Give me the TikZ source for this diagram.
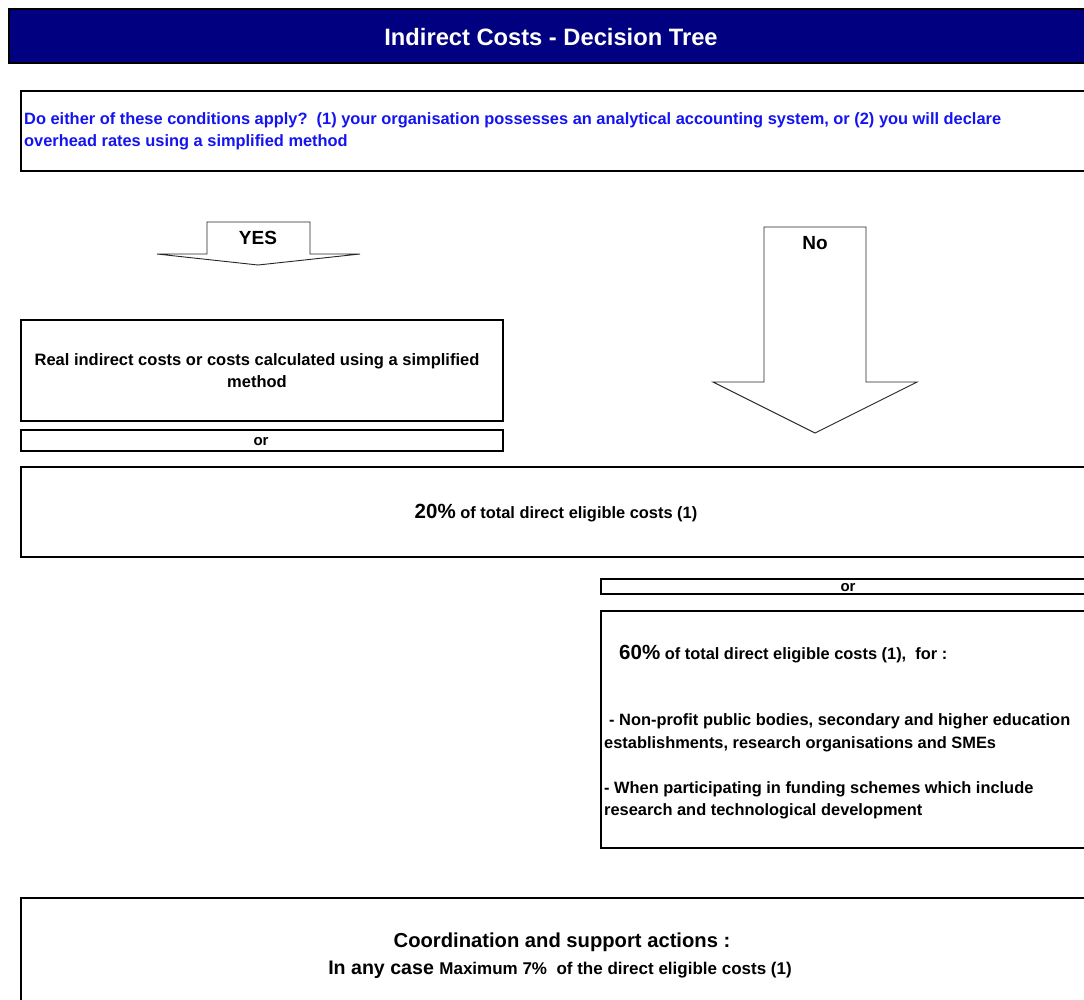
\documentclass[tikz,border=0pt]{standalone}
\usepackage{fontspec}
\setmainfont{Liberation Sans}
\definecolor{navy}{RGB}{0,0,128}
\definecolor{qblue}{RGB}{20,20,240}
\tikzset{
  box/.style={draw=black, line width=1.6pt, fill=white, inner sep=0pt, anchor=north west},
  blockarrow/.style={draw=black!85, line width=0.9pt, fill=white, line join=miter},
  txt/.style={inner sep=0pt, font=\bfseries},
}
\begin{document}
\begin{tikzpicture}[x=1pt, y=-1pt]
\useasboundingbox (0,0) rectangle (1084,999);
\clip (0,0) rectangle (1084,999);
\fill[white] (0,0) rectangle (1084,999);

% title bar
\node[draw=black, line width=2pt, fill=navy, anchor=north west, minimum width=1100pt, minimum height=54pt, inner sep=0pt] (title) at (8,8) {};
\node[txt, text=white, font=\fontsize{23.7}{27}\selectfont\bfseries, anchor=base] (titletext) at (551,45) {Indirect Costs - Decision Tree};

% question
\node[box, minimum width=1100pt, minimum height=80pt] (qbox) at (20,90) {};
\node[txt, text=qblue, font=\fontsize{16.4}{22}\selectfont\bfseries, anchor=base west, align=left] (qtext) at (24,146.5)
  {Do either of these conditions apply?\ \ (1) your organisation possesses an analytical accounting system, or (2) you will declare\\overhead rates using a simplified method};

% YES arrow
\draw[blockarrow] (207,254) -- (207,222) -- (310,222) -- (310,254) -- (360,254) -- (258,265) -- (157,254) -- cycle;
\node[txt, font=\fontsize{19}{22}\selectfont\bfseries, anchor=base] (yes) at (258,244) {YES};

% No arrow
\draw[blockarrow] (764,382) -- (764,227) -- (866,227) -- (866,382) -- (917,382) -- (815,433) -- (713,382) -- cycle;
\node[txt, font=\fontsize{19}{22}\selectfont\bfseries, anchor=base] (no) at (815,249) {No};

% real indirect costs
\node[box, minimum width=482pt, minimum height=101pt] (realbox) at (20,319) {};
\node[txt, font=\fontsize{16.5}{22}\selectfont\bfseries, anchor=base, align=center] (realtext) at (257,387)
  {Real indirect costs or costs calculated using a simplified\\method};

% or (left)
\node[box, minimum width=482pt, minimum height=21pt] (orleft) at (20,429) {};
\node[txt, font=\fontsize{15}{18}\selectfont\bfseries, anchor=base] (orlefttext) at (261,445) {or};

% 20%
\node[box, minimum width=1100pt, minimum height=90pt] (twentybox) at (20,466) {};
\node[txt, font=\fontsize{16.4}{20}\selectfont\bfseries, anchor=base] (twentytext) at (556,518)
  {{\fontsize{20.5}{24}\selectfont 20\%} of total direct eligible costs (1)};

% or (right)
\node[box, minimum width=500pt, minimum height=15pt] (orright) at (600,578) {};
\node[txt, font=\fontsize{15}{18}\selectfont\bfseries, anchor=base] (orrighttext) at (848,591) {or};

% 60%
\node[box, minimum width=500pt, minimum height=237pt] (sixtybox) at (600,610) {};
\node[txt, font=\fontsize{16.4}{22}\selectfont\bfseries, anchor=base west, align=left] (sixtytext) at (604,815)
  {\hspace*{15pt}{\fontsize{20.5}{24}\selectfont 60\%} of total direct eligible costs (1),\ \ for :\\[44pt]
   \hspace*{5pt}- Non-profit public bodies, secondary and higher education\\[1pt]
   establishments, research organisations and SMEs\\[23pt]
   - When participating in funding schemes which include\\
   research and technological development};

% coordination
\node[box, minimum width=1100pt, minimum height=200pt] (coordbox) at (20,897) {};
\node[txt, font=\fontsize{20.2}{24}\selectfont\bfseries, anchor=base] (coordtext) at (562,947) {Coordination and support actions :};
\node[txt, font=\fontsize{19.6}{24}\selectfont\bfseries, anchor=base] (maxtext) at (560,974)
  {In any case {\fontsize{17}{20}\selectfont Maximum 7\%\ \ of the direct eligible costs (1)}};
\end{tikzpicture}
\end{document}
